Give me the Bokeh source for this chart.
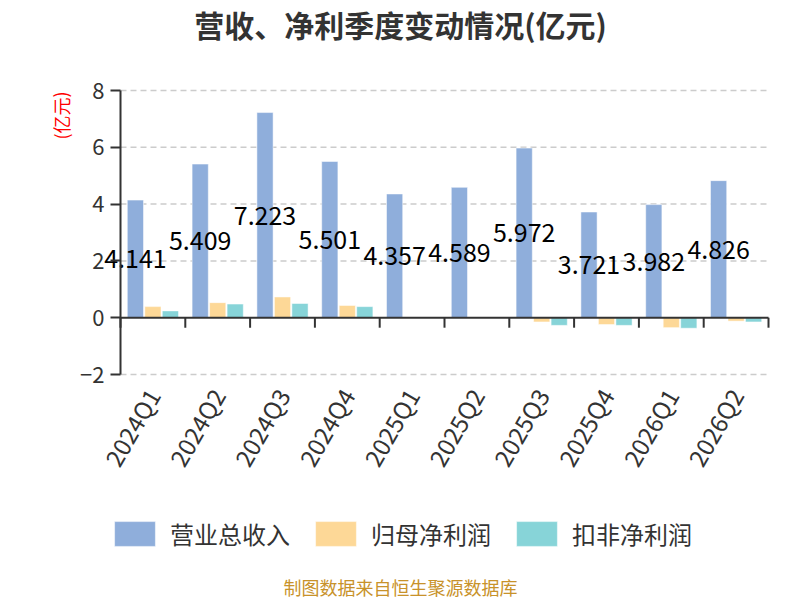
from bokeh.plotting import figure
from bokeh.models import (Range1d, ColumnDataSource, FixedTicker, Label, Legend, LegendItem)
from bokeh.transform import dodge
from bokeh.core.properties import value
from bokeh.embed import file_html
from bokeh.resources import INLINE

quarters = ["2024Q1", "2024Q2", "2024Q3", "2024Q4", "2025Q1",
            "2025Q2", "2025Q3", "2025Q4", "2026Q1", "2026Q2"]
revenue = [4.141, 5.409, 7.223, 5.501, 4.357, 4.589, 5.972, 3.721, 3.982, 4.826]
net_profit = [0.39, 0.53, 0.73, 0.43, 0.02, 0.01, -0.15, -0.24, -0.35, -0.12]
net_profit_deducted = [0.24, 0.48, 0.50, 0.39, 0.01, 0.005, -0.27, -0.27, -0.37, -0.15]
series_names = ["营业总收入", "归母净利润", "扣非净利润"]
colors = ["#8FAEDB", "#FDD897", "#87D4D8"]
y_ticks = [-2, 0, 2, 4, 6, 8]
y_min, y_max = -2, 8

FONT = "Noto Sans CJK SC"

# canvas / plotting-area geometry (pixels)
W, H = 800, 600
AX_L, AX_R, AX_T, AX_B = 120, 768, 90, 374

n = len(quarters)
px_per_cat = (AX_R - AX_L) / n
px_per_unit = (AX_B - AX_T) / (y_max - y_min)

centers = [i + 0.5 for i in range(n)]
src = ColumnDataSource(dict(
    xc=centers,
    rev=revenue,
    np_=net_profit,
    npd=net_profit_deducted,
    half=[v / 2 for v in revenue],
    lbl=[f"{v:.3f}" for v in revenue],
))

x_range = Range1d(-AX_L / px_per_cat, n + (W - AX_R) / px_per_cat)
y_range = Range1d(y_min - (H - AX_B) / px_per_unit, y_max + AX_T / px_per_unit)

p = figure(x_range=x_range, y_range=y_range, width=W, height=H,
           output_backend="svg", toolbar_location=None,
           min_border=0, min_border_left=0, min_border_right=0,
           min_border_top=0, min_border_bottom=0)
p.outline_line_color = None
p.background_fill_color = "white"
p.border_fill_color = "white"
p.xgrid.grid_line_color = None
p.ygrid.grid_line_color = None

# y axis
p.yaxis.fixed_location = 0
p.yaxis.bounds = (y_min, y_max)
p.yaxis.ticker = FixedTicker(ticks=y_ticks)
p.yaxis.axis_line_color = "#333333"
p.yaxis.axis_line_width = 2
p.yaxis.major_tick_line_color = "#333333"
p.yaxis.major_tick_line_width = 2
p.yaxis.major_tick_out = 10
p.yaxis.major_tick_in = 0
p.yaxis.minor_tick_line_color = None
p.yaxis.major_label_text_font = FONT
p.yaxis.major_label_text_font_size = "22px"
p.yaxis.major_label_text_color = "#333333"
p.yaxis.major_label_standoff = 6

# x axis (labels only)
p.xaxis.fixed_location = y_min
p.xaxis.ticker = FixedTicker(ticks=centers)
p.xaxis.major_label_overrides = {c: q for c, q in zip(centers, quarters)}
p.xaxis.axis_line_color = None
p.xaxis.major_tick_line_color = None
p.xaxis.minor_tick_line_color = None
p.xaxis.major_label_orientation = 1.0472
p.xaxis.major_label_text_font = FONT
p.xaxis.major_label_text_font_size = "24px"
p.xaxis.major_label_text_color = "#333333"
p.xaxis.major_label_standoff = 10

# dashed grid lines
grid_vals = [t for t in y_ticks if t != 0]
p.segment(x0=[0] * len(grid_vals), y0=grid_vals, x1=[n] * len(grid_vals), y1=grid_vals,
          line_color="#CCCCCC", line_width=1.5, line_dash="6 4")

off = 0.27
bw = 0.25
r1 = p.vbar(x=dodge("xc", -off), top="rev", width=bw, source=src,
            fill_color=colors[0], line_color="white", line_width=0.5)
r2 = p.vbar(x=dodge("xc", 0), top="np_", width=bw, source=src,
            fill_color=colors[1], line_color="white", line_width=0.5)
r3 = p.vbar(x=dodge("xc", off), top="npd", width=bw, source=src,
            fill_color=colors[2], line_color="white", line_width=0.5)

# zero axis line with category boundary ticks
p.segment(x0=[0], y0=[0], x1=[n], y1=[0], line_color="#333333", line_width=2)
bounds = list(range(0, n + 1))
tick_len = 10 / px_per_unit
p.segment(x0=bounds, y0=[0] * len(bounds), x1=bounds, y1=[-tick_len] * len(bounds),
          line_color="#333333", line_width=2)

# data labels
p.text(x=dodge("xc", -off), y="half", text="lbl", source=src,
       text_align="center", text_baseline="middle", text_font=value(FONT),
       text_font_size="25px", text_color="#000000")

legend = Legend(items=[LegendItem(label=series_names[0], renderers=[r1]),
                       LegendItem(label=series_names[1], renderers=[r2]),
                       LegendItem(label=series_names[2], renderers=[r3])],
                orientation="horizontal", location=(109, H - 551),
                glyph_width=51, glyph_height=31, label_standoff=10, spacing=20,
                padding=0, margin=0, border_line_color=None,
                background_fill_alpha=0,
                label_text_font=FONT, label_text_font_size="24px",
                label_text_color="#333333")
p.add_layout(legend, "center")

p.add_layout(Label(x=W / 2, y=H - 23, x_units="screen", y_units="screen",
                   text="营收、净利季度变动情况(亿元)", text_font=FONT,
                   text_font_size="30px", text_font_style="bold",
                   text_color="#333333", text_align="center",
                   text_baseline="middle"))
p.add_layout(Label(x=W / 2, y=H - 586, x_units="screen", y_units="screen",
                   text="制图数据来自恒生聚源数据库", text_font=FONT,
                   text_font_size="18px", text_color="#C8922A",
                   text_align="center", text_baseline="middle"))
p.add_layout(Label(x=60, y=H - 115, x_units="screen", y_units="screen",
                   text="(亿元)", text_font=FONT, text_font_size="18px",
                   text_color="#FF0000", angle=1.5708,
                   text_align="center", text_baseline="middle"))

open("out.html", "w").write(file_html(p, INLINE))
